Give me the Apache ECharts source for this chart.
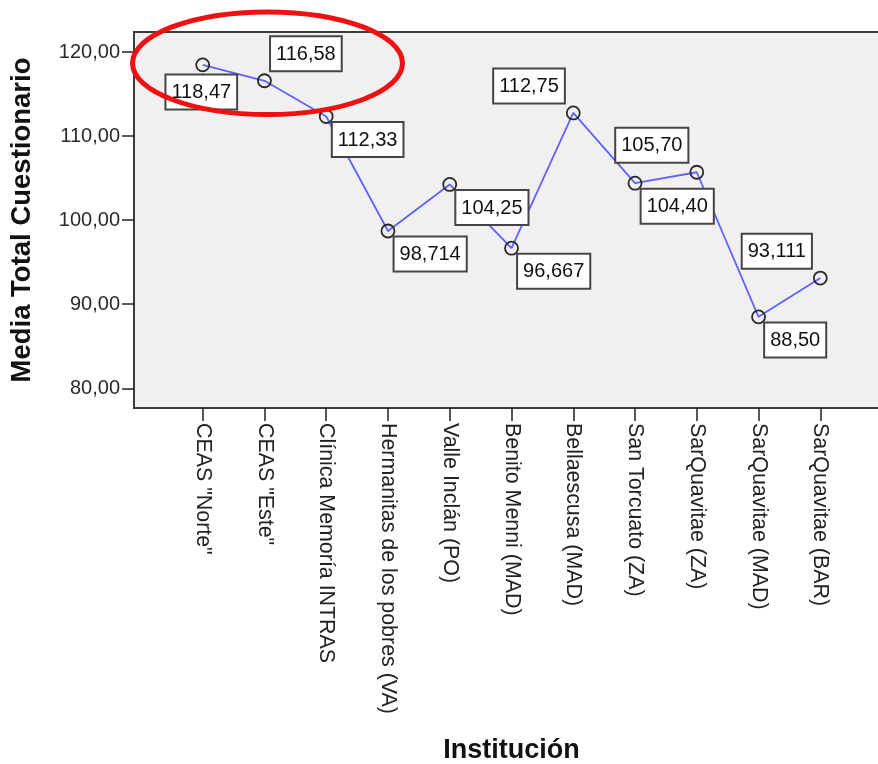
<!DOCTYPE html>
<html>
<head>
<meta charset="utf-8">
<style>
  html, body { margin: 0; padding: 0; background: #ffffff; }
  #chart { width: 878px; height: 764px; }
</style>
<script src="https://cdn.jsdelivr.net/npm/echarts@6/dist/echarts.min.js"></script>
</head>
<body>
<div id="chart"></div>
<script>
// Institutions on the horizontal axis
const categories = [
  'CEAS "Norte"',
  'CEAS "Este"',
  'Clínica Memoría INTRAS',
  'Hermanitas de los pobres (VA)',
  'Valle Inclán (PO)',
  'Benito Menni (MAD)',
  'Bellaescusa (MAD)',
  'San Torcuato (ZA)',
  'SarQuavitae (ZA)',
  'SarQuavitae (MAD)',
  'SarQuavitae (BAR)'
];

// Mean questionnaire total per institution
const means = [118.47, 116.58, 112.33, 98.714, 104.25, 96.667, 112.75, 104.40, 105.70, 88.50, 93.111];

// Decimals shown in each value label
const labelDecimals = [2, 2, 2, 3, 2, 3, 2, 2, 2, 2, 3];

// Where each value box sits relative to its point
const labelSides = ['below', 'upRight', 'downRight', 'downRight', 'downRight', 'downRight',
                    'upLeft', 'downRight', 'upLeft', 'downRight', 'upLeft'];

// Y-axis tick values
const yTicks = [80, 90, 100, 110, 120];

const FONT = '"Liberation Sans", Arial, sans-serif';

const sidePlacement = {
  below:     { position: [6, 18],  align: 'center', verticalAlign: 'top' },
  upRight:   { position: [14, -3], align: 'left',   verticalAlign: 'bottom' },
  downRight: { position: [14, 14], align: 'left',   verticalAlign: 'top' },
  upLeft:    { position: [-2, -3], align: 'right',  verticalAlign: 'bottom' }
};

const fmt = (v, d) => v.toFixed(d).replace('.', ',');

const seriesData = means.map((v, i) => ({
  value: [i, v],
  label: Object.assign({}, sidePlacement[labelSides[i]], {
    formatter: fmt(v, labelDecimals[i])
  })
}));

const xIndices = categories.map((_, i) => i);

const chart = echarts.init(document.getElementById('chart'), null, { renderer: 'canvas' });

chart.setOption({
  animation: false,
  backgroundColor: '#ffffff',
  grid: {
    left: 134,
    top: 32,
    right: -11,
    bottom: 356,
    containLabel: false,
    outerBoundsMode: 'none',
    show: true,
    backgroundColor: '#f0f0f0',
    borderColor: '#3c3c3c',
    borderWidth: 2
  },
  xAxis: {
    type: 'value',
    min: -1.112,
    max: 11.112,
    name: 'Institución',
    nameLocation: 'middle',
    nameGap: 329,
    nameTextStyle: { fontFamily: FONT, fontWeight: 'bold', fontSize: 27, color: '#111' },
    axisLine: { show: false, onZero: false },
    splitLine: { show: false },
    axisTick: {
      show: true,
      length: 13,
      customValues: xIndices,
      lineStyle: { color: '#222', width: 1.5 }
    },
    axisLabel: {
      customValues: xIndices,
      rotate: -90,
      margin: 15,
      fontFamily: FONT,
      fontSize: 21.4,
      color: '#222',
      formatter: (v) => categories[Math.round(v)]
    }
  },
  yAxis: {
    type: 'value',
    min: 77.66,
    max: 122.38,
    name: 'Media Total Cuestionario',
    nameLocation: 'middle',
    nameGap: 98,
    nameTextStyle: { fontFamily: FONT, fontWeight: 'bold', fontSize: 27.5, color: '#111' },
    axisLine: { show: false, onZero: false },
    splitLine: { show: false },
    axisTick: {
      show: true,
      length: 12,
      customValues: yTicks,
      lineStyle: { color: '#222', width: 1.5 }
    },
    axisLabel: {
      customValues: yTicks,
      margin: 14,
      fontFamily: FONT,
      fontSize: 20,
      color: '#2a2a2a',
      formatter: (v) => fmt(v, 2)
    }
  },
  series: [{
    type: 'line',
    data: seriesData,
    symbol: 'circle',
    symbolSize: 13,
    lineStyle: { color: '#5f62ff', width: 1.8 },
    itemStyle: { color: 'rgba(0,0,0,0)', borderColor: '#2a2a2a', borderWidth: 1.8 },
    label: {
      show: true,
      fontFamily: FONT,
      fontSize: 20,
      lineHeight: 22,
      color: '#111',
      backgroundColor: '#ffffff',
      borderColor: '#444',
      borderWidth: 2,
      padding: [6, 5, 5, 5]
    },
    z: 3
  }],
  graphic: [{
    type: 'ellipse',
    shape: { cx: 267.5, cy: 63.2, rx: 135, ry: 51.3 },
    style: { fill: 'none', stroke: '#ee1111', lineWidth: 5 },
    z: 100
  }]
});
</script>
</body>
</html>
